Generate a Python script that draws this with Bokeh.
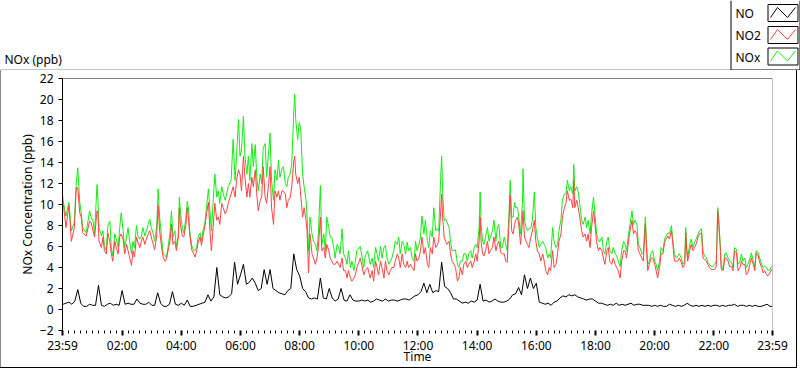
from bokeh.plotting import figure
from bokeh.models import FixedTicker, Span, Range1d, Spacer
from bokeh.layouts import column, row
from bokeh.core.properties import value
from bokeh.embed import file_html
from bokeh.resources import INLINE

# ---------------- data ----------------
# NOx and NO2: minutes after midnight and values
T_NOX = [-1, 1, 6, 12, 17, 23, 27, 30, 34, 37,
         40, 47, 54, 57, 61, 64, 69, 71, 73, 78,
         81, 84, 88, 91, 95, 98, 101, 105, 108, 112,
         115, 118, 122, 125, 129, 132, 135, 139, 142, 145,
         149, 152, 156, 159, 162, 166, 169, 173, 176, 179,
         183, 186, 190, 193, 196, 200, 203, 207, 210, 213,
         217, 220, 223, 227, 230, 234, 236, 238, 242, 245,
         249, 252, 255, 257, 261, 264, 268, 271, 274, 278,
         281, 284, 288, 291, 295, 298, 301, 308, 312, 315,
         318, 322, 325, 329, 332, 335, 341, 345, 349, 352,
         356, 359, 362, 366, 369, 373, 376, 379, 383, 386,
         390, 393, 396, 400, 403, 406, 410, 413, 417, 420,
         423, 427, 430, 434, 437, 440, 444, 447, 451, 454,
         457, 461, 464, 468, 470, 472, 476, 479, 482, 486,
         489, 493, 495, 498, 501, 505, 508, 512, 515, 518,
         522, 525, 529, 532, 535, 539, 542, 545, 549, 552,
         556, 559, 562, 566, 569, 573, 576, 579, 583, 586,
         590, 593, 596, 603, 610, 613, 618, 623, 627, 630,
         634, 637, 640, 644, 647, 651, 654, 657, 661, 664,
         667, 671, 674, 678, 681, 684, 688, 691, 695, 698,
         701, 705, 708, 712, 715, 718, 722, 725, 728, 732,
         735, 739, 742, 745, 749, 752, 756, 759, 762, 766,
         768, 770, 773, 776, 779, 783, 786, 789, 793, 796,
         800, 803, 806, 810, 813, 817, 820, 823, 827, 830,
         834, 837, 840, 844, 846, 848, 851, 854, 857, 861,
         864, 867, 871, 874, 878, 881, 884, 888, 891, 895,
         898, 901, 905, 907, 910, 913, 916, 918, 922, 925,
         928, 932, 933, 936, 939, 942, 945, 949, 952, 956,
         959, 962, 966, 969, 973, 976, 979, 983, 986, 989,
         993, 996, 1000, 1003, 1006, 1010, 1013, 1017, 1020, 1023,
         1027, 1030, 1034, 1036, 1038, 1042, 1045, 1048, 1052, 1055,
         1059, 1062, 1065, 1069, 1072, 1076, 1079, 1082, 1086, 1089,
         1093, 1096, 1099, 1103, 1106, 1109, 1113, 1116, 1120, 1123,
         1126, 1130, 1133, 1137, 1140, 1143, 1147, 1150, 1154, 1157,
         1160, 1164, 1167, 1170, 1174, 1177, 1181, 1184, 1186, 1189,
         1193, 1196, 1200, 1203, 1206, 1210, 1213, 1217, 1220, 1223,
         1227, 1230, 1234, 1237, 1240, 1244, 1247, 1250, 1254, 1257,
         1261, 1263, 1265, 1267, 1271, 1274, 1278, 1281, 1284, 1288,
         1291, 1295, 1298, 1301, 1305, 1308, 1311, 1315, 1318, 1322,
         1325, 1328, 1330, 1333, 1335, 1339, 1342, 1345, 1349, 1352,
         1356, 1359, 1362, 1366, 1369, 1373, 1376, 1379, 1383, 1386,
         1389, 1393, 1396, 1400, 1403, 1406, 1410, 1413, 1417, 1420,
         1423, 1427, 1430, 1434, 1437, 1439]

NOX = [11.0, 10.2, 8.9, 10.2, 7.5, 8.3, 12.1, 13.5, 10.2, 9.2,
       7.8, 7.3, 9.4, 8.8, 8.4, 7.2, 11.9, 10.3, 7.8, 7.0,
       7.5, 6.1, 5.6, 8.0, 8.4, 5.9, 5.1, 7.2, 6.7, 5.9,
       7.8, 9.2, 7.5, 5.9, 6.9, 7.8, 6.5, 5.3, 6.5, 5.9,
       8.0, 7.0, 6.7, 7.0, 7.8, 7.0, 7.5, 8.1, 8.6, 7.8,
       7.2, 6.5, 7.8, 11.5, 8.8, 6.9, 5.3, 5.1, 5.0, 5.9,
       7.3, 9.4, 6.9, 7.5, 5.9, 7.2, 10.7, 9.4, 7.7, 7.3,
       8.6, 10.3, 9.4, 7.5, 6.1, 5.7, 5.6, 5.9, 6.9, 7.3,
       6.5, 7.5, 8.3, 9.7, 11.5, 9.4, 7.5, 12.9, 10.7, 11.3,
       10.1, 11.7, 11.0, 10.4, 11.0, 11.7, 12.3, 16.2, 12.3, 14.6,
       18.1, 14.6, 15.2, 18.4, 14.6, 12.9, 14.6, 12.3, 15.8, 13.6,
       15.7, 12.6, 11.3, 12.9, 12.0, 15.4, 15.8, 12.6, 14.9, 16.8,
       12.3, 10.4, 13.3, 12.3, 14.2, 12.6, 13.4, 13.6, 12.0, 11.7,
       12.6, 12.9, 13.9, 18.7, 20.5, 18.1, 16.2, 17.8, 17.3, 12.9,
       11.7, 10.4, 8.8, 5.6, 8.8, 7.2, 6.5, 6.2, 5.6, 7.2,
       11.8, 6.2, 7.2, 5.6, 8.8, 7.8, 6.9, 6.9, 5.9, 4.9,
       6.2, 5.9, 5.3, 7.7, 5.3, 4.9, 4.3, 5.6, 4.0, 4.6,
       3.7, 4.6, 5.6, 6.0, 4.0, 5.1, 5.6, 4.3, 4.9, 4.0,
       5.9, 5.3, 4.6, 6.0, 4.9, 5.9, 6.1, 4.9, 4.3, 4.6,
       4.9, 5.6, 6.5, 6.2, 6.9, 5.3, 6.5, 6.2, 5.3, 6.4,
       5.6, 5.9, 4.9, 4.6, 6.5, 5.6, 6.2, 6.9, 8.9, 7.2,
       8.5, 6.5, 5.9, 7.5, 6.9, 9.7, 7.5, 7.7, 7.5, 12.6,
       14.6, 11.3, 8.5, 8.6, 8.3, 7.8, 6.5, 5.6, 5.6, 5.7,
       4.3, 4.0, 4.6, 4.6, 5.3, 5.3, 4.6, 5.3, 5.6, 4.9,
       5.9, 6.2, 5.9, 7.8, 11.2, 8.1, 6.5, 6.2, 6.9, 7.8,
       6.5, 6.9, 7.5, 8.5, 6.5, 7.8, 8.1, 5.9, 5.9, 6.9,
       6.2, 5.6, 9.7, 12.3, 8.8, 8.8, 10.2, 9.7, 9.7, 8.5,
       7.2, 10.4, 13.4, 8.5, 7.8, 7.5, 7.7, 7.8, 8.5, 11.2,
       7.8, 6.9, 5.9, 6.2, 6.5, 6.2, 5.9, 4.9, 5.3, 4.9,
       7.8, 6.5, 5.9, 6.2, 7.5, 8.6, 10.5, 11.0, 11.0, 12.3,
       11.3, 11.7, 11.0, 13.8, 11.3, 11.7, 11.2, 10.1, 8.5, 8.1,
       8.8, 7.8, 8.5, 7.2, 9.1, 10.7, 9.1, 7.3, 6.5, 6.5,
       6.9, 5.6, 5.3, 6.5, 6.9, 5.6, 5.3, 5.9, 5.3, 5.1,
       4.6, 4.1, 5.6, 6.5, 6.2, 5.6, 7.2, 8.1, 9.4, 8.1,
       8.5, 8.1, 6.2, 5.9, 5.3, 5.3, 8.8, 5.9, 4.3, 4.6,
       5.4, 5.6, 4.6, 4.3, 3.7, 4.6, 5.9, 5.6, 6.7, 7.0,
       7.3, 7.2, 8.0, 6.5, 5.3, 4.9, 5.1, 5.3, 4.9, 4.3,
       4.6, 7.8, 5.9, 4.9, 6.2, 6.7, 5.9, 6.4, 6.7, 7.2,
       7.5, 7.7, 5.6, 5.1, 4.9, 4.5, 4.3, 4.1, 4.1, 4.3,
       4.6, 9.7, 8.6, 6.2, 4.3, 3.8, 5.3, 5.4, 4.9, 4.6,
       4.5, 4.0, 5.9, 5.7, 4.3, 4.5, 5.3, 4.6, 4.9, 4.0,
       4.3, 4.8, 5.4, 4.6, 4.0, 5.6, 5.4, 4.9, 4.3, 4.0,
       4.1, 4.0, 3.7, 3.8, 4.1, 4.1]

NO2 = [10.3, 9.9, 7.8, 9.9, 6.5, 7.8, 11.6, 11.6, 9.2, 8.8,
       7.3, 7.0, 8.4, 8.3, 7.5, 6.9, 9.4, 9.1, 6.5, 5.9,
       6.9, 5.6, 5.3, 7.3, 6.5, 5.3, 4.6, 6.5, 5.9, 5.3,
       6.9, 7.2, 6.7, 5.3, 6.2, 5.6, 5.0, 4.2, 5.6, 5.0,
       6.9, 6.4, 5.9, 6.5, 6.9, 6.2, 6.7, 7.2, 7.5, 6.9,
       6.2, 5.7, 7.0, 9.9, 7.5, 5.9, 5.0, 4.6, 4.8, 5.6,
       6.5, 8.1, 6.2, 6.5, 5.6, 6.9, 9.7, 8.1, 7.0, 6.9,
       8.0, 9.7, 8.4, 7.2, 5.7, 5.4, 5.0, 5.6, 6.4, 6.9,
       6.1, 7.0, 8.0, 9.1, 10.2, 7.5, 5.6, 10.1, 8.5, 8.8,
       8.1, 10.1, 9.7, 9.1, 9.4, 10.1, 11.0, 11.7, 10.7, 12.3,
       13.3, 12.9, 11.3, 14.6, 12.6, 10.7, 12.0, 10.7, 12.6, 11.7,
       13.3, 11.0, 9.4, 10.4, 10.7, 13.6, 10.7, 10.1, 12.0, 13.6,
       9.7, 8.1, 11.3, 10.7, 11.3, 10.4, 11.3, 11.3, 11.0, 9.7,
       10.4, 10.7, 11.7, 14.1, 14.6, 12.9, 12.0, 12.6, 11.0, 8.8,
       9.7, 8.5, 7.5, 3.5, 7.2, 5.3, 4.9, 4.3, 4.9, 5.9,
       8.8, 5.6, 5.9, 4.9, 6.2, 5.6, 4.9, 4.6, 4.3, 4.3,
       4.6, 4.3, 4.0, 4.9, 3.7, 3.7, 3.0, 3.7, 3.0, 2.7,
       3.0, 3.3, 4.0, 4.9, 3.3, 3.7, 4.0, 3.0, 3.7, 2.7,
       4.6, 4.0, 3.3, 4.6, 4.0, 3.0, 4.6, 3.7, 3.3, 3.7,
       4.0, 4.0, 4.6, 5.3, 4.9, 4.0, 5.3, 4.3, 4.0, 4.6,
       4.0, 4.3, 4.0, 3.7, 5.3, 4.6, 4.9, 5.6, 6.9, 5.3,
       5.9, 4.3, 4.0, 5.9, 5.3, 6.9, 5.9, 6.1, 6.5, 9.3,
       11.0, 8.8, 6.9, 6.5, 6.2, 6.5, 5.3, 4.6, 4.3, 4.0,
       2.7, 3.0, 4.0, 3.3, 4.3, 4.6, 4.0, 4.3, 4.6, 4.0,
       4.6, 5.3, 4.6, 6.5, 8.8, 6.5, 5.3, 5.1, 5.6, 6.5,
       5.3, 5.6, 5.9, 6.9, 5.6, 6.2, 6.5, 5.4, 5.3, 5.3,
       4.6, 4.5, 8.8, 10.9, 7.5, 7.2, 8.1, 8.5, 8.8, 7.8,
       6.2, 8.5, 9.4, 6.9, 6.5, 6.2, 5.9, 6.9, 7.5, 8.5,
       6.5, 5.6, 5.3, 4.6, 5.3, 4.6, 3.7, 3.3, 4.0, 3.7,
       5.6, 4.0, 4.3, 5.3, 6.5, 7.2, 8.8, 9.7, 10.1, 11.3,
       10.4, 10.5, 9.7, 12.3, 9.7, 10.4, 9.7, 8.8, 7.5, 6.9,
       7.2, 6.5, 7.2, 5.9, 7.8, 9.4, 8.1, 6.5, 5.6, 5.9,
       5.6, 4.9, 4.3, 5.6, 5.9, 4.6, 4.3, 4.9, 4.3, 4.0,
       3.7, 3.0, 4.6, 5.6, 5.6, 4.9, 6.5, 7.5, 8.5, 7.2,
       7.5, 7.2, 5.6, 5.3, 4.9, 4.6, 8.1, 5.3, 3.7, 4.3,
       4.9, 4.9, 4.3, 3.7, 3.0, 4.0, 5.3, 5.3, 6.4, 6.7,
       7.0, 6.7, 7.5, 6.2, 4.6, 4.6, 4.6, 4.9, 4.5, 4.0,
       4.3, 7.3, 5.6, 4.6, 5.6, 6.2, 5.6, 5.9, 6.2, 6.9,
       7.2, 7.3, 4.9, 4.8, 4.6, 4.3, 4.0, 3.8, 3.8, 3.8,
       4.1, 9.4, 8.1, 5.9, 3.8, 3.7, 4.9, 4.9, 4.6, 4.1,
       4.1, 3.7, 5.6, 5.4, 3.7, 4.0, 4.6, 4.3, 4.3, 3.3,
       3.5, 4.3, 4.9, 4.3, 3.7, 5.4, 5.1, 4.5, 4.0, 3.5,
       3.7, 3.3, 3.2, 3.5, 3.8, 3.8]

# NO: 6-minute steps
T_NO = [i * 6 for i in range(240)] + [1439]
NO = [0.5, 0.6, 0.7, 0.5, 0.8, 1.9, 0.6, 0.3, 0.3, 0.5,
      0.4, 0.4, 2.3, 0.4, 0.3, 0.5, 0.6, 0.4, 0.5, 0.4,
      1.8, 0.5, 0.6, 0.5, 0.5, 1.0, 0.6, 0.5, 0.5, 0.7,
      0.4, 0.4, 1.6, 0.6, 0.3, 0.3, 0.5, 1.7, 0.5, 0.4,
      0.6, 0.4, 0.9, 0.3, 0.3, 0.4, 0.5, 0.6, 0.7, 1.4,
      0.8, 1.2, 4.0, 1.4, 1.2, 1.1, 1.2, 1.5, 4.5, 2.4,
      3.3, 4.3, 2.4, 2.6, 3.0, 2.5, 1.8, 2.0, 3.8, 2.4,
      3.8, 2.0, 1.8, 1.6, 1.5, 1.4, 1.8, 2.0, 5.3, 3.8,
      3.2, 2.0, 1.7, 1.1, 1.0, 1.1, 1.0, 3.0, 1.1, 1.0,
      2.0, 1.1, 0.8, 1.0, 2.0, 0.9, 0.8, 1.4, 0.9, 0.8,
      0.8, 0.9, 0.8, 0.9, 0.7, 0.8, 1.0, 0.9, 0.8, 1.0,
      0.8, 0.9, 0.9, 0.8, 0.9, 1.0, 1.0, 0.9, 1.1, 1.3,
      1.4, 1.7, 2.5, 1.6, 2.4, 1.6, 1.8, 1.7, 4.5, 2.2,
      2.0, 1.6, 1.0, 1.0, 0.8, 0.6, 0.7, 0.6, 0.8, 0.7,
      0.9, 2.4, 0.8, 0.9, 0.7, 0.8, 1.0, 0.8, 0.7, 0.7,
      0.8, 1.0, 1.4, 1.5, 2.1, 1.4, 3.3, 2.0, 3.0, 2.0,
      2.5, 0.7, 0.6, 0.5, 0.6, 0.4, 0.7, 0.8, 1.1, 1.3,
      1.2, 1.4, 1.3, 1.4, 1.2, 1.1, 1.0, 0.9, 1.0, 1.0,
      0.8, 0.6, 0.6, 0.5, 0.4, 0.5, 0.4, 0.6, 0.4, 0.5,
      0.4, 0.5, 0.6, 0.4, 0.5, 0.5, 0.4, 0.4, 0.4, 0.3,
      0.4, 0.3, 0.4, 0.3, 0.3, 0.5, 0.4, 0.3, 0.4, 0.3,
      0.4, 0.6, 0.4, 0.3, 0.4, 0.3, 0.4, 0.3, 0.4, 0.3,
      0.4, 0.4, 0.3, 0.4, 0.3, 0.4, 0.4, 0.5, 0.3, 0.4,
      0.4, 0.3, 0.4, 0.3, 0.4, 0.3, 0.3, 0.4, 0.5, 0.3,
      0.3]

assert len(T_NOX) == len(NOX) == len(NO2), (len(T_NOX), len(NOX), len(NO2))
assert len(T_NO) == len(NO)

X_TICKS = [-1, 120, 240, 360, 480, 600, 720, 840, 960, 1080, 1200, 1320, 1439]
X_LABELS = ["23:59", "02:00", "04:00", "06:00", "08:00", "10:00", "12:00",
            "14:00", "16:00", "18:00", "20:00", "22:00", "23:59"]
X_MINOR = [m for m in range(12, 1439, 12) if m % 120 != 0]
Y_TICKS = [-2, 0, 2, 4, 6, 8, 10, 12, 14, 16, 18, 20, 22]

SERIES = ["NO", "NO2", "NOx"]
COLORS = ["#000000", "#ff4343", "#14ec14"]

FONT = "Noto Sans"
PANEL_GREY = "#8a8a8a"

# ---------------- header: panel caption + legend (pixel coordinates) ----------------
hdr = figure(width=800, height=70, output_backend="svg", toolbar_location=None,
             title=None, x_range=Range1d(0, 800), y_range=Range1d(70, 0),
             x_axis_location=None, y_axis_location=None,
             min_border=0, min_border_left=0, min_border_right=0,
             min_border_top=0, min_border_bottom=0)
hdr.grid.visible = False
hdr.outline_line_color = None
hdr.background_fill_color = "white"
hdr.border_fill_color = "white"

hdr.text(x=[4], y=[58.5], text=["NOx (ppb)"], text_font=value(FONT),
         text_font_size="12px", text_baseline="middle", text_color="black")
hdr.segment(x0=[0], y0=[69.5], x1=[730], y1=[69.5], line_color=PANEL_GREY, line_width=1)
hdr.segment(x0=[730.5, 730.5, 799.5], y0=[0, 69.5, 0], x1=[730.5, 800, 799.5],
            y1=[70, 69.5, 70], line_color="black", line_width=1)
leg_y = [13, 35, 56.5]
hdr.text(x=[735] * 3, y=leg_y, text=SERIES, text_font=value(FONT),
         text_font_size="12px", text_baseline="middle", text_color="black")
hdr.quad(left=[767.5] * 3, right=[797.5] * 3, top=[c - 9 for c in leg_y],
         bottom=[c + 8 for c in leg_y], fill_alpha=0, line_color="black", line_width=1)
hdr.multi_line(xs=[[770, 777, 787, 795]] * 3,
               ys=[[c + 4, c - 6, c + 4, c - 6] for c in leg_y],
               line_color=COLORS, line_width=1)

# ---------------- main chart ----------------
MAIN_H = 297
p = figure(width=795, height=MAIN_H, output_backend="svg", toolbar_location=None, title=None,
           x_range=Range1d(X_TICKS[0], X_TICKS[-1]), y_range=Range1d(Y_TICKS[0], Y_TICKS[-1]),
           min_border_left=61, min_border_right=24, min_border_top=8, min_border_bottom=37)
p.grid.visible = False
p.outline_line_color = None
p.background_fill_color = "white"
p.border_fill_color = "white"

p.line(T_NOX, NOX, line_color=COLORS[2], line_width=1)
p.line(T_NOX, NO2, line_color=COLORS[1], line_width=1)
p.line(T_NO, NO, line_color=COLORS[0], line_width=1)

xa = p.xaxis[0]
xa.ticker = FixedTicker(ticks=X_TICKS, minor_ticks=X_MINOR)
xa.major_label_overrides = dict(zip(X_TICKS, X_LABELS))
xa.axis_line_color = None
xa.major_tick_in = 0
xa.major_tick_out = 5
xa.major_tick_line_width = 2
xa.minor_tick_in = 0
xa.minor_tick_out = 3
xa.major_label_standoff = 1
xa.major_label_text_font = FONT
xa.major_label_text_font_size = "12px"
xa.major_label_text_color = "black"
xa.axis_label = "Time"
xa.axis_label_standoff = -9
xa.axis_label_text_font = FONT
xa.axis_label_text_font_size = "12px"
xa.axis_label_text_font_style = "normal"
xa.axis_label_text_color = "black"

ya = p.yaxis[0]
ya.ticker = FixedTicker(ticks=Y_TICKS)
ya.axis_line_color = "black"
ya.major_tick_in = 0
ya.major_tick_out = 4
ya.minor_tick_line_color = None
ya.major_label_standoff = 5
ya.major_label_text_font = FONT
ya.major_label_text_font_size = "12px"
ya.major_label_text_color = "black"
ya.axis_label = "NOx Concentration (ppb)"
ya.axis_label_standoff = 1
ya.axis_label_text_font = FONT
ya.axis_label_text_font_size = "12px"
ya.axis_label_text_font_style = "normal"
ya.axis_label_text_color = "black"

p.add_layout(Span(location=Y_TICKS[-1], dimension="width", line_color="black", line_width=1))
p.add_layout(Span(location=X_TICKS[-1], dimension="height", line_color=PANEL_GREY, line_width=1))

left_edge = Spacer(width=1, height=MAIN_H, styles={"background-color": PANEL_GREY})
right_edge = Spacer(width=1, height=MAIN_H, styles={"background-color": "#000000"})
right_pad = Spacer(width=3, height=MAIN_H)
bottom_edge = Spacer(width=797, height=1, styles={"background-color": "#000000"})

layout = column(hdr, row(left_edge, p, right_edge, right_pad), bottom_edge, spacing=0)

open("out.html", "w").write(file_html(layout, INLINE))
